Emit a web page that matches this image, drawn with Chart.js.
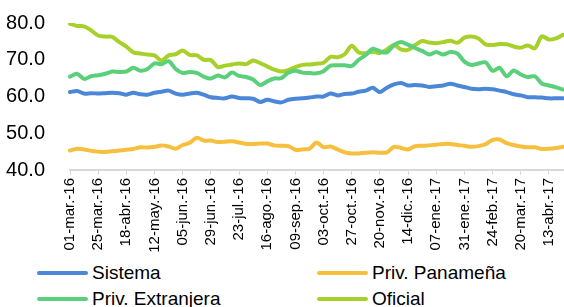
<!DOCTYPE html>
<html>
<head>
<meta charset="utf-8">
<script src="https://cdn.jsdelivr.net/npm/chart.js@4.4.1/dist/chart.umd.min.js"></script>
<style>
  body { margin: 0; background: #fff; font-family: "Liberation Sans", Arial, sans-serif; }
  #wrap { position: relative; width: 564px; height: 307px; overflow: hidden; }
  #box { position: absolute; left: 0; top: 0; width: 564px; height: 262px; }
  .leg { position: absolute; display: flex; align-items: center; font-size: 19px; color: #000; white-space: nowrap; line-height: 20px; }
  .leg span.sw { display: inline-block; width: 51px; height: 4px; border-radius: 2px; margin-right: 4px; }
</style>
</head>
<body>
<div id="wrap">
  <div id="box"><canvas id="chart"></canvas></div>
  <div id="legend"></div>
</div>
<script>
// Etiquetas del eje X (una cada 24 días; datos cada 6 días)
const tickLabels = ['01-mar.-16', '25-mar.-16', '18-abr.-16', '12-may.-16', '05-jun.-16', '29-jun.-16',
  '23-jul.-16', '16-ago.-16', '09-sep.-16', '03-oct.-16', '27-oct.-16', '20-nov.-16', '14-dic.-16',
  '07-ene.-17', '31-ene.-17', '24-feb.-17', '20-mar.-17', '13-abr.-17'];

const sistema = [
  61.2, 61.5, 60.8, 60.9, 60.8, 60.9, 61.0, 60.9, 60.5, 61.0,
  60.6, 60.5, 61.0, 61.3, 61.6, 60.8, 60.5, 60.8, 61.0, 60.5,
  59.8, 59.6, 59.5, 60.0, 59.6, 59.5, 59.4, 58.5, 59.1, 58.7,
  58.4, 59.1, 59.4, 59.5, 59.7, 60.0, 60.0, 60.8, 60.3, 60.7,
  60.8, 61.3, 61.6, 62.4, 61.2, 62.4, 63.3, 63.7, 63.0, 63.1,
  63.0, 62.6, 62.8, 63.0, 63.5, 63.0, 62.6, 62.1, 62.0, 62.1,
  62.0, 61.6, 61.2, 60.6, 60.3, 59.8, 59.8, 59.7, 59.5, 59.5,
  59.5
];
const privPanamena = [
  45.3, 45.8, 45.6, 45.2, 45.0, 44.9, 45.1, 45.3, 45.5, 45.7,
  46.2, 46.1, 46.3, 46.7, 46.4, 45.8, 46.8, 47.4, 48.8, 48.0,
  48.0, 47.6, 47.7, 47.8, 47.5, 47.1, 47.1, 47.2, 47.2, 46.7,
  46.6, 46.5, 45.5, 45.6, 45.8, 47.5, 46.2, 46.4, 45.6, 44.8,
  44.5, 44.5, 44.7, 44.8, 44.7, 44.8, 46.3, 46.0, 45.6, 46.5,
  46.6, 46.7, 46.9, 47.1, 47.1, 46.8, 46.6, 46.3, 46.5, 47.0,
  48.2, 48.3, 47.3, 46.8, 46.4, 46.2, 46.2, 45.7, 45.8, 46.0,
  46.3
];
const privExtranjera = [
  65.4, 66.2, 64.8, 65.5, 65.8, 66.2, 66.8, 66.7, 66.8, 67.8,
  67.0, 67.5, 69.0, 68.8, 69.6, 67.5, 66.4, 66.7, 66.4, 65.4,
  64.9, 65.7, 65.2, 66.5, 65.6, 65.3, 64.6, 63.1, 64.1, 64.9,
  65.0, 66.5, 67.0, 66.5, 66.4, 66.3, 66.9, 68.4, 68.5, 68.5,
  68.3, 70.0, 71.3, 73.0, 72.3, 72.0, 74.0, 74.8, 74.1, 73.2,
  72.4, 71.4, 72.1, 71.4, 72.1, 71.7, 69.5, 68.6, 69.0, 69.3,
  67.0, 67.8, 65.5, 67.1, 66.0, 65.3, 65.5, 63.5, 63.0, 62.5,
  61.9
];
const oficial = [
  79.8, 79.2, 79.1, 78.0, 76.6, 76.3, 76.2, 74.8, 73.6, 72.0,
  71.7, 71.4, 71.2, 69.8, 71.2, 71.5, 72.5, 71.3, 71.2, 70.0,
  69.9, 68.0, 68.4, 68.7, 69.0, 68.8, 69.8, 69.1, 68.2, 67.3,
  66.8, 67.2, 68.0, 68.6, 68.7, 68.9, 69.2, 70.8, 70.7, 71.5,
  73.8, 72.0, 71.8, 72.2, 71.8, 72.8, 74.0, 72.8, 72.7, 74.0,
  75.1, 74.7, 74.5, 74.8, 75.2, 74.6, 76.0, 76.3, 75.8, 74.2,
  74.0, 74.3, 74.2, 73.6, 73.3, 73.9, 73.1, 76.4, 75.5, 75.8,
  76.8
];

const seriesNames = ['Sistema', 'Priv. Panameña', 'Priv. Extranjera', 'Oficial'];
const seriesColors = ['#4a87d8', '#f6bf3d', '#5bd07b', '#a7d12a'];
const seriesData = [sistema, privPanamena, privExtranjera, oficial];

// una etiqueta por punto; solo cada 4º punto lleva texto
const labels = sistema.map((v, i) => (i % 4 === 0 && tickLabels[i / 4]) ? tickLabels[i / 4] : '');

const fontFamily = '"Liberation Sans", Arial, sans-serif';

const ctx = document.getElementById('chart').getContext('2d');
const chart = new Chart(ctx, {
    type: 'line',
    data: {
        labels: labels,
        datasets: seriesData.map((d, k) => ({
            label: seriesNames[k],
            data: d,
            borderColor: seriesColors[k],
            backgroundColor: seriesColors[k],
            borderWidth: 4,
            pointRadius: 0,
            tension: 0.3,
            borderCapStyle: 'round',
            borderJoinStyle: 'round',
            fill: false
        }))
    },
    options: {
        responsive: true,
        maintainAspectRatio: false,
        animation: false,
        layout: { autoPadding: false, padding: { top: 23, right: 1, left: 0, bottom: 0 } },
        plugins: {
            legend: { display: false },
            tooltip: { enabled: false }
        },
        scales: {
            x: {
                grid: { display: true, drawOnChartArea: false, drawTicks: true, tickLength: 5, color: '#d9d9d9', lineWidth: 1 },
                border: { display: true, color: '#d9d9d9', width: 2 },
                ticks: {
                    autoSkip: false,
                    maxRotation: 90,
                    minRotation: 90,
                    padding: 3,
                    color: '#000',
                    font: { family: fontFamily, size: 15 },
                    callback: function (val, i) {
                        const l = this.getLabelForValue(val);
                        return l ? l : null;
                    }
                },
                afterFit: (scale) => {
                    scale.height = 92;
                    scale.paddingLeft = 0;
                    scale.paddingRight = 0;
                }
            },
            y: {
                min: 40,
                max: 80,
                grid: { display: false },
                border: { display: false },
                ticks: {
                    stepSize: 10,
                    padding: 17,
                    color: '#000',
                    font: { family: fontFamily, size: 20 },
                    callback: (v) => v.toFixed(1)
                },
                afterFit: (scale) => {
                    scale.width = 70;
                    scale.paddingTop = 0;
                    scale.paddingBottom = 0;
                }
            }
        }
    }
});

// Leyenda en dos columnas
const legendPos = [[37, 263], [317, 263], [37, 289], [317, 289]];
const legendEl = document.getElementById('legend');
seriesNames.forEach((name, k) => {
    const item = document.createElement('div');
    item.className = 'leg';
    item.style.left = legendPos[k][0] + 'px';
    item.style.top = legendPos[k][1] + 'px';
    item.innerHTML = `<span class="sw" style="background:${seriesColors[k]}"></span>${name}`;
    legendEl.appendChild(item);
});
</script>
</body>
</html>
